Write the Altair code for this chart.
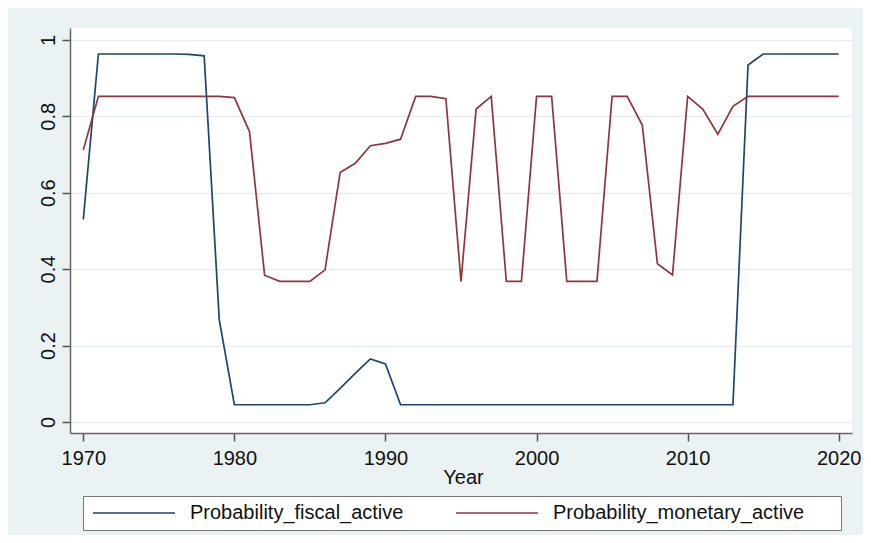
import altair as alt
import pandas as pd

years = list(range(1970, 2021))

fiscal = [
    0.53,                                           # 1970
    0.963, 0.963, 0.963, 0.963, 0.963, 0.963, 0.962,  # 1971-1977
    0.958,                                          # 1978
    0.267,                                          # 1979
    0.045, 0.045, 0.045, 0.045, 0.045, 0.045,       # 1980-1985
    0.05, 0.088, 0.127, 0.165, 0.152,               # 1986-1990
    0.045, 0.045, 0.045, 0.045, 0.045, 0.045, 0.045, 0.045,  # 1991-1998
    0.045, 0.045, 0.045, 0.045, 0.045, 0.045, 0.045, 0.045,  # 1999-2006
    0.045, 0.045, 0.045, 0.045, 0.045, 0.045, 0.045,         # 2007-2013
    0.934,                                          # 2014
    0.963, 0.963, 0.963, 0.963, 0.963, 0.963,       # 2015-2020
]

monetary = [
    0.712,                                                       # 1970
    0.852, 0.852, 0.852, 0.852, 0.852, 0.852, 0.852, 0.852, 0.852,  # 1971-1979
    0.849, 0.760, 0.384, 0.368, 0.368, 0.368,                    # 1980-1985
    0.398, 0.653, 0.677, 0.723, 0.729,                           # 1986-1990
    0.740, 0.852, 0.852, 0.846, 0.368,                           # 1991-1995
    0.819, 0.852, 0.368, 0.368, 0.852,                           # 1996-2000
    0.852, 0.368, 0.368, 0.368, 0.852,                           # 2001-2005
    0.852, 0.777, 0.414, 0.385, 0.852,                           # 2006-2010
    0.819, 0.753, 0.826,                                         # 2011-2013
    0.852, 0.852, 0.852, 0.852, 0.852, 0.852, 0.852,             # 2014-2020
]

series_names = ["Probability_fiscal_active", "Probability_monetary_active"]
series_colors = ["#1A476F", "#90353B"]
x_ticks = [1970, 1980, 1990, 2000, 2010, 2020]
y_ticks = [0, 0.2, 0.4, 0.6, 0.8, 1]

df = pd.DataFrame({
    "Year": years + years,
    "value": fiscal + monetary,
    "series": [series_names[0]] * len(years) + [series_names[1]] * len(years),
})

FONT = "Liberation Sans"

chart = alt.Chart(df).mark_line(strokeWidth=1.7).encode(
    x=alt.X(
        "Year:Q",
        scale=alt.Scale(domain=[1969.12, 2020.88], nice=False, zero=False),
        axis=alt.Axis(
            values=x_ticks, format="d", title="Year", grid=False,
            labelFontSize=20, labelPadding=7, labelColor="#111",
            tickSize=8, tickColor="#555", tickWidth=1.5,
            domainColor="#666", domainWidth=1.5,
            titleFontSize=20, titleFontWeight="normal", titleColor="#111",
            titleBaseline="alphabetic", titleAlign="center", titleX=393, titleY=50,
        ),
    ),
    y=alt.Y(
        "value:Q",
        scale=alt.Scale(domain=[-0.029, 1.031], nice=False, zero=False),
        axis=alt.Axis(
            values=y_ticks, format="~g", title=None,
            labelAngle=270, labelAlign="center", labelBaseline="bottom",
            labelFontSize=20, labelPadding=4, labelColor="#111",
            tickSize=8, tickColor="#555", tickWidth=1.5,
            domainColor="#666", domainWidth=1.5,
            grid=True, gridColor="#E6EEF0", gridWidth=1.5,
        ),
    ),
    color=alt.Color(
        "series:N",
        scale=alt.Scale(domain=series_names, range=series_colors),
        legend=alt.Legend(
            orient="none", legendX=13, legendY=468,
            direction="horizontal", columns=2, columnPadding=49,
            symbolType="stroke", symbolSize=6724, symbolStrokeWidth=1.7,
            symbolOffset=2, clipHeight=20,
            labelFontSize=20, labelOffset=14, labelLimit=500, labelColor="#111",
            padding=7, strokeColor="#777", fillColor="white",
            title=" ", titleOrient="right", titlePadding=30, titleFontSize=12,
        ),
    ),
).properties(
    width=782,
    height=405,
    background="#EAF2F3",
    padding={"left": 62, "top": 20, "right": 11, "bottom": 102},
    autosize=alt.AutoSizeParams(type="none"),
).configure_view(
    fill="white", strokeWidth=0,
).configure_axis(
    labelFont=FONT, titleFont=FONT,
).configure_legend(
    labelFont=FONT, titleFont=FONT,
)

chart.save("out.html", embed_options={"renderer": "svg", "actions": False})
